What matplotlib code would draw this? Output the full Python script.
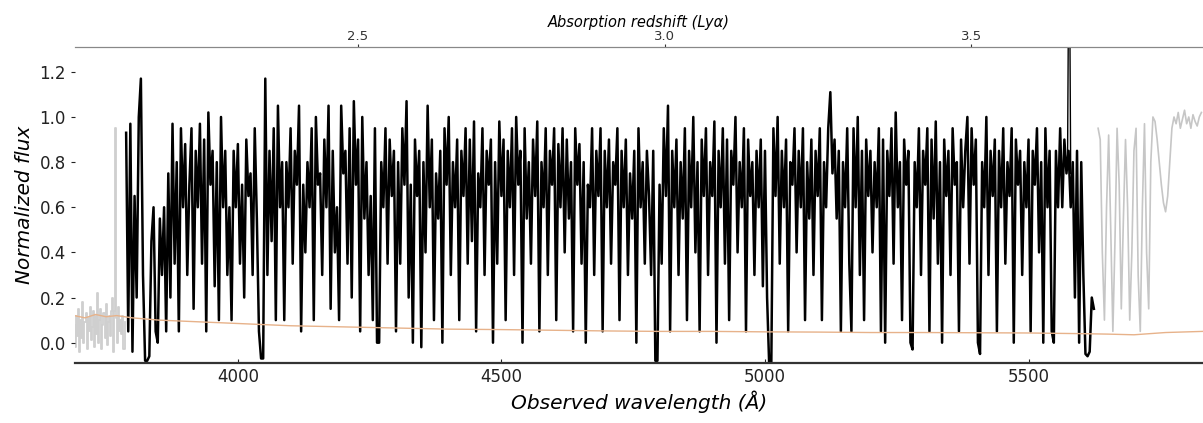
import numpy as np
import matplotlib
matplotlib.use("Agg")
import matplotlib.pyplot as plt

# --- spectrum (normalised flux, in percent) ---------------------------------
# blue side, below the forest (drawn in grey), 2 A sampling
blue_wave_start, blue_step = 3690.0, 2.0
blue_flux_pct = """
8 -2 12 3 15 -4 10 2 18 0 9 13 -3 11 5 16 1 7 14 -2 12 4 22 0 10 15 -3
8 13 2 17 -1 9 12 3 14 20 -4 14 95 11 0 16 5 10 4 12 -3 9
"""

# Lyman-alpha forest (drawn in black), 4 A sampling from 3788 A
forest_wave_start, forest_step = 3788.0, 4.0
forest_flux_pct = """
93 5 97 -4 65 20 100 117 30 -8 -8 -6 45 60 5 0 55 30 60 5 75 20 97 35 80
5 95 60 88 30 70 95 15 85 60 97 35 90 5 102 70 85 25 80 10 100 60 85 30 60
10 85 60 88 35 70 20 90 65 75 30 95 55 5 -7 -7 117 30 85 45 95 10 105 60 80
10 80 60 95 35 85 70 105 5 70 40 80 60 95 10 100 70 75 30 90 60 105 15 85 40
60 10 105 75 85 35 95 20 107 70 90 5 100 55 80 30 65 10 95 0 0 80 60 95 35
90 65 85 5 80 35 95 70 107 20 70 0 90 65 85 -2 80 40 105 60 90 10 75 55 85
0 95 70 100 30 80 60 90 10 85 65 95 35 90 45 98 5 75 60 95 30 85 70 90 0
80 35 98 65 90 10 85 60 95 30 100 70 85 0 95 55 80 35 90 65 98 5 80 60 95
30 85 70 95 10 88 60 95 40 90 55 80 5 95 70 88 35 80 0 70 60 95 30 85 65
95 5 85 60 90 35 80 70 95 10 85 60 90 30 75 55 85 0 95 60 80 35 85 65 30
85 -8 -8 70 35 95 65 105 5 85 60 90 30 80 55 95 10 85 60 100 40 80 5 90 65
95 30 80 65 98 0 85 60 95 35 90 10 85 70 100 40 80 60 95 5 90 65 80 30 85
60 90 25 85 20 -10 -10 95 65 100 35 85 60 90 5 80 70 95 40 85 60 95 10 80 55
90 30 85 65 95 10 80 60 95 111 75 90 55 85 5 80 60 95 35 5 95 60 100 30 85
10 90 65 85 40 80 60 95 5 90 0 85 65 95 35 102 60 80 10 90 70 85 0 -3 80
60 95 30 85 70 95 5 90 55 98 35 80 0 90 65 85 30 95 70 80 5 90 60 85 100
35 95 70 90 0 -5 80 60 100 30 85 65 90 5 85 60 95 35 80 65 95 0 90 70 85
30 80 60 90 5 85 70 95 40 80 0 95 60 85 5 0 85 60 95 60 90 75 85 60 80
20 85 0 80 30 -5 -6 -4 20 15
"""

# red side, beyond the Lyman-alpha emission (drawn in grey), 4 A sampling
red_wave_start, red_step = 5632.0, 4.0
red_flux_pct = """
95 90 40 10 60 92 50 5 45 95 70 15 55 90 60 10 40 85 95 30 5 60 97 40 15
80 100 98 90 80 70 62 58 65 80 95 100 97 102 95 99 103 97 100 95 101 98 96
100 102
"""

# sky-line residual near 5577 A
sky_wave = [5574.0, 5577.0, 5580.0]
sky_flux = [0.80, 2.00, 0.75]

# flux uncertainty
err_wave = [3690, 3710, 3730, 3750, 3770, 3800, 3850, 3900, 3950, 4000,
            4100, 4200, 4300, 4400, 4500, 4600, 4700, 4800, 4900, 5000,
            5100, 5200, 5300, 5400, 5500, 5600, 5650, 5700, 5760, 5830]
err_flux = [0.12, 0.11, 0.125, 0.115, 0.12, 0.11, 0.10, 0.095, 0.09, 0.085,
            0.075, 0.07, 0.065, 0.06, 0.058, 0.055, 0.052, 0.05, 0.05,
            0.048, 0.047, 0.045, 0.045, 0.044, 0.043, 0.04, 0.038, 0.035,
            0.045, 0.05]

# axis settings
x_limits = (3691, 5831)
y_limits = (-0.09, 1.31)
x_ticks = [4000, 4500, 5000, 5500]
y_ticks = [0.0, 0.2, 0.4, 0.6, 0.8, 1.0, 1.2]
z_ticks = [2.5, 3.0, 3.5]
z_ref, wave_ref, wave_per_z = 2.5, 4228.0, 1163.0


def parse(block):
    return np.array(block.split(), dtype=float) / 100.0


blue_flux = parse(blue_flux_pct)
forest_flux = parse(forest_flux_pct)
red_flux = parse(red_flux_pct)
blue_wave = blue_wave_start + blue_step * np.arange(len(blue_flux))
forest_wave = forest_wave_start + forest_step * np.arange(len(forest_flux))
red_wave = red_wave_start + red_step * np.arange(len(red_flux))

fig = plt.figure(figsize=(12.03, 4.23), dpi=100)
ax = fig.add_axes([75 / 1203, 60 / 423, 1128 / 1203, 316 / 423])

ax.plot(blue_wave, blue_flux, color="#cfcfcf", lw=1.3, zorder=1,
        drawstyle="steps-mid")
ax.plot(red_wave, red_flux, color="#c6c6c6", lw=1.2, zorder=1)
ax.plot(err_wave, err_flux, color="#e7b28a", lw=1.0, zorder=3)
ax.plot(forest_wave, forest_flux, color="black", lw=1.8, zorder=2)
ax.plot(sky_wave, sky_flux, color="black", lw=1.0, zorder=2)

ax.set_xlim(*x_limits)
ax.set_ylim(*y_limits)
ax.set_xticks(x_ticks)
ax.set_yticks(y_ticks)
ax.tick_params(axis="both", labelsize=12, length=3, width=0.8,
               colors="#222222")
ax.tick_params(axis="x", direction="in")
for side in ("left", "right"):
    ax.spines[side].set_visible(False)
ax.spines["top"].set_color("#888888")
ax.spines["bottom"].set_color("#333333")
ax.spines["bottom"].set_linewidth(1.6)

ax.set_xlabel("Observed wavelength (Å)", fontsize=14.5, style="italic",
              labelpad=3)
ax.set_ylabel("Normalized flux", fontsize=14.5, style="italic", labelpad=4)

top = ax.secondary_xaxis(
    "top",
    functions=(lambda w: z_ref + (w - wave_ref) / wave_per_z,
               lambda z: wave_ref + (z - z_ref) * wave_per_z))
top.set_xticks(z_ticks)
top.tick_params(labelsize=9.5, length=2, colors="#333333", pad=1)
top.spines["top"].set_color("#888888")
top.set_xlabel("Absorption redshift (Lyα)", fontsize=10.5, style="italic",
               labelpad=2)

fig.savefig("out.png", dpi=100)
